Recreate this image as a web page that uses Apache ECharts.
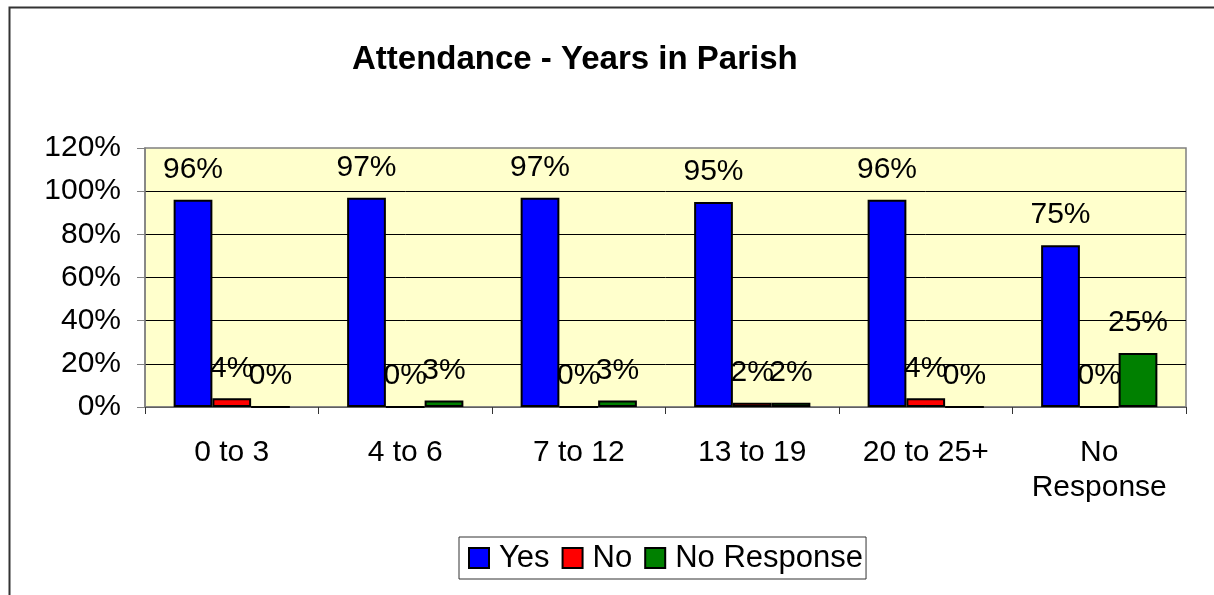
<!DOCTYPE html>
<html>
<head>
<meta charset="utf-8">
<title>Attendance - Years in Parish</title>
<script src="https://cdn.jsdelivr.net/npm/echarts@6/dist/echarts.min.js"></script>
<style>
  html, body { margin: 0; padding: 0; background: #fff; }
  #chart { width: 1214px; height: 595px; }
</style>
</head>
<body>
<div id="chart"></div>
<script>
// categories and values (percent)
const categories = ['0 to 3', '4 to 6', '7 to 12', '13 to 19', '20 to 25+', 'No\nResponse'];
const yesValues = [96, 97, 97, 95, 96, 75];
const noValues = [4, 0, 0, 2, 4, 0];
const noResponseValues = [0, 3, 3, 2, 0, 25];
const yTicks = { min: 0, max: 120, step: 20 };

const FONT = '"Liberation Sans", Arial, sans-serif';

const chart = echarts.init(document.getElementById('chart'));

function barSeries(name, color, data) {
  return {
    name: name,
    type: 'bar',
    data: data,
    barGap: '0%',
    barCategoryGap: '33%',
    itemStyle: { color: color, borderColor: '#000', borderWidth: 2 },
    label: {
      show: true,
      position: 'top',
      distance: 15,
      formatter: '{c}%',
      color: '#000',
      fontFamily: FONT,
      fontSize: 30
    }
  };
}

const option = {
  animation: false,
  backgroundColor: '#fff',
  textStyle: { fontFamily: FONT },
  title: {
    text: 'Attendance - Years in Parish',
    left: 352,
    top: 43,
    padding: 0,
    textStyle: { fontFamily: FONT, fontSize: 33, fontWeight: 'bold', color: '#000' }
  },
  graphic: [{
    type: 'rect',
    left: 7,
    top: 5,
    shape: { width: 1300, height: 700 },
    style: { fill: 'none', stroke: '#333', lineWidth: 2 },
    silent: true
  }],
  legend: {
    data: ['Yes', 'No', 'No Response'],
    left: 459,
    top: 537,
    padding: [5, 3, 5, 9],
    itemGap: 12,
    itemWidth: 20,
    itemHeight: 20,
    borderColor: '#333',
    borderWidth: 1,
    icon: 'rect',
    itemStyle: { borderColor: '#000', borderWidth: 2 },
    textStyle: { fontFamily: FONT, fontSize: 31, lineHeight: 32, color: '#000', padding: [0, 0, 0, 5] }
  },
  grid: {
    left: 145,
    top: 148,
    right: 28,
    bottom: 188,
    show: true,
    backgroundColor: '#FFFFCC',
    borderColor: '#808080',
    borderWidth: 1.5
  },
  xAxis: {
    type: 'category',
    data: categories,
    axisLine: { lineStyle: { color: '#808080', width: 1.5 } },
    axisTick: { show: true, alignWithLabel: false, length: 7, lineStyle: { color: '#333' } },
    axisLabel: {
      color: '#000',
      fontFamily: FONT,
      fontSize: 30,
      lineHeight: 35,
      margin: 28,
      interval: 0
    }
  },
  yAxis: {
    type: 'value',
    min: yTicks.min,
    max: yTicks.max,
    interval: yTicks.step,
    axisLine: { show: true, lineStyle: { color: '#808080', width: 1.5 } },
    axisTick: { show: true, length: 8, lineStyle: { color: '#808080' } },
    axisLabel: {
      formatter: '{value}%',
      color: '#000',
      fontFamily: FONT,
      fontSize: 30,
      margin: 24
    },
    splitLine: { show: true, showMaxLine: false, lineStyle: { color: '#000', width: 1 } }
  },
  series: [
    barSeries('Yes', '#0000FF', yesValues),
    barSeries('No', '#FF0000', noValues),
    barSeries('No Response', '#008000', noResponseValues)
  ]
};

chart.setOption(option);
</script>
</body>
</html>
